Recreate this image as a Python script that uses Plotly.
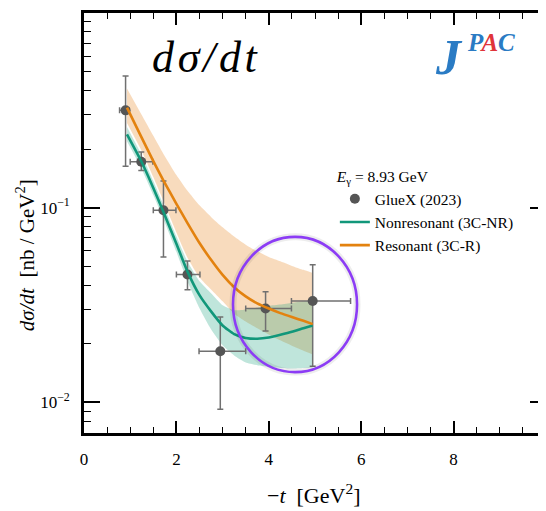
import plotly.graph_objects as go

# ---------------- data ----------------
t_data = [0.90, 1.24, 1.72, 2.24, 2.95, 3.93, 4.95]
dsdt_data = [0.316, 0.172, 0.097, 0.0453, 0.0183, 0.0303, 0.0331]
dsdt_err_up = [0.159, 0.021, 0.040, 0.0079, 0.0091, 0.0067, 0.0178]
dsdt_err_dn = [0.153, 0.017, 0.0413, 0.0074, 0.0091, 0.0071, 0.0178]
t_err_lo = [0.13, 0.24, 0.22, 0.24, 0.46, 0.43, 0.46]
t_err_hi = [0.08, 0.25, 0.27, 0.27, 0.55, 0.56, 0.82]

t_curve = [0.93, 1.24, 1.5, 1.72, 2.0, 2.24, 2.5, 2.75, 3.0, 3.25, 3.5, 3.75,
           4.0, 4.25, 4.5, 4.75, 4.95]
res_line = [0.3266, 0.2309, 0.1734, 0.1378, 0.1045, 0.0833, 0.0658, 0.0539, 0.0451,
            0.0390, 0.0350, 0.0322, 0.0303, 0.0287, 0.0274, 0.0262, 0.0252]
res_upper = [0.409, 0.3016, 0.2339, 0.1888, 0.1471, 0.1220, 0.1027, 0.0896, 0.0792,
             0.0710, 0.0645, 0.0596, 0.0558, 0.0530, 0.0502, 0.0479, 0.0462]
res_lower = [0.2721, 0.1970, 0.1438, 0.1082, 0.0746, 0.0553, 0.0438, 0.0380, 0.0330,
             0.0285, 0.0260, 0.0240, 0.0223, 0.0208, 0.0195, 0.0184, 0.0176]
nr_line = [0.2379, 0.1730, 0.1262, 0.0950, 0.0652, 0.0469, 0.0355, 0.0293, 0.0248,
           0.0224, 0.0214, 0.0212, 0.0215, 0.0222, 0.0230, 0.0240, 0.0248]
nr_upper = [0.2596, 0.1879, 0.1371, 0.1032, 0.0712, 0.0528, 0.0418, 0.0363, 0.0315,
            0.0297, 0.0300, 0.0307, 0.0313, 0.0318, 0.0324, 0.0330, 0.0334]
nr_lower = [0.2191, 0.1592, 0.1162, 0.0875, 0.0593, 0.0417, 0.0304, 0.0237, 0.0196,
            0.0174, 0.0160, 0.0155, 0.0152, 0.0150, 0.0149, 0.0150, 0.0151]

y_tickvals = [0.01, 0.1, 1]
y_ticktext = ["10<sup>−2</sup>", "10<sup>−1</sup>", "1"]
y_minor = [0.007, 0.008, 0.009, 0.02, 0.03, 0.04, 0.05, 0.06, 0.07, 0.08, 0.09,
           0.2, 0.3, 0.4, 0.5, 0.6, 0.7, 0.8, 0.9]
x_tickvals = [0, 2, 4, 6, 8, 10]

# ---------------- style ----------------
SERIF = "Liberation Serif"
ORANGE = "#E3820F"
GREEN = "#11977A"
ORANGE_BAND = "rgba(232,135,35,0.30)"
GREEN_BAND = "rgba(25,160,125,0.28)"
SM = 0.5

fig = go.Figure()

# orange band
fig.add_trace(go.Scatter(x=t_curve, y=res_lower, mode="lines",
                         line=dict(width=0, shape="spline", smoothing=SM),
                         showlegend=False, hoverinfo="skip"))
fig.add_trace(go.Scatter(x=t_curve, y=res_upper, mode="lines", fill="tonexty",
                         fillcolor=ORANGE_BAND,
                         line=dict(width=0, shape="spline", smoothing=SM),
                         showlegend=False, hoverinfo="skip"))
# green band
fig.add_trace(go.Scatter(x=t_curve, y=nr_lower, mode="lines",
                         line=dict(width=0, shape="spline", smoothing=SM),
                         showlegend=False, hoverinfo="skip"))
fig.add_trace(go.Scatter(x=t_curve, y=nr_upper, mode="lines", fill="tonexty",
                         fillcolor=GREEN_BAND,
                         line=dict(width=0, shape="spline", smoothing=SM),
                         showlegend=False, hoverinfo="skip"))

# data
fig.add_trace(go.Scatter(
    x=t_data, y=dsdt_data, mode="markers", name="GlueX (2023)",
    marker=dict(color="#555555", size=10),
    error_y=dict(type="data", array=dsdt_err_up, arrayminus=dsdt_err_dn,
                 color="#707070", thickness=1.5, width=3),
    error_x=dict(type="data", array=t_err_hi, arrayminus=t_err_lo,
                 color="#707070", thickness=1.5, width=3),
))

# lines
fig.add_trace(go.Scatter(x=t_curve, y=nr_line, mode="lines",
                         name="Nonresonant (3C-NR)",
                         line=dict(color=GREEN, width=2.6, shape="spline", smoothing=SM)))
fig.add_trace(go.Scatter(x=t_curve, y=res_line, mode="lines",
                         name="Resonant (3C-R)",
                         line=dict(color=ORANGE, width=2.6, shape="spline", smoothing=SM)))

# ellipse highlight (shadow + purple)
ex0, ex1, ey0, ey1 = 0.3225, 0.591, 0.145, 0.467
fig.add_shape(type="circle", xref="paper", yref="paper",
              x0=ex0, x1=ex1, y0=ey0, y1=ey1,
              line=dict(color="rgba(0,0,0,0.07)", width=7), layer="above")
fig.add_shape(type="circle", xref="paper", yref="paper",
              x0=ex0, x1=ex1, y0=ey0, y1=ey1,
              line=dict(color="#8C3CF5", width=2.6), layer="above")

# texts
HS = "\u200a"
fig.add_annotation(xref="paper", yref="paper", x=0.264, y=0.895,
                   xanchor="center", yanchor="middle",
                   text="<i>d" + HS + "σ" + HS + "/" + HS + "d" + HS + "t</i>",
                   showarrow=False,
                   font=dict(family=SERIF, size=44, color="black"))
fig.add_annotation(xref="paper", yref="paper", x=0.79, y=0.895,
                   xanchor="center", yanchor="middle",
                   text="<b><i>J</i></b>", showarrow=False,
                   font=dict(family=SERIF, size=50, color="#2A7BC4"))
fig.add_annotation(xref="paper", yref="paper", x=0.881, y=0.9286,
                   xanchor="center", yanchor="middle",
                   text="<b><i>P<span style='color:#E0343A'>A</span>C</i></b>",
                   showarrow=False,
                   font=dict(family=SERIF, size=25, color="#2A7BC4"))
fig.add_annotation(xref="paper", yref="paper", x=-0.1277, y=0.4235,
                   xanchor="center", yanchor="middle",
                   text="<i>dσ/dt</i>  [nb / GeV<sup>2</sup>]", textangle=-90,
                   showarrow=False,
                   font=dict(family=SERIF, size=21, color="black"))
fig.add_annotation(xref="paper", yref="paper", x=0.496, y=-0.145,
                   xanchor="center", yanchor="middle",
                   text="−<i>t</i>  [GeV<sup>2</sup>]", showarrow=False,
                   font=dict(family=SERIF, size=22, color="black"))

axis_common = dict(showline=True, linecolor="black", linewidth=2.6, mirror="ticks",
                   ticks="inside", tickcolor="black", tickwidth=1.5,
                   showgrid=False, zeroline=False, automargin=False,
                   tickfont=dict(family=SERIF, size=17, color="black"))

fig.update_xaxes(range=[0, 10], tickmode="array", tickvals=x_tickvals, ticklen=12,
                 minor=dict(dtick=0.5, ticks="inside", ticklen=6, tickcolor="black",
                            tickwidth=1.2, showgrid=False),
                 ticklabelstandoff=9, ticklabeloverflow="allow", **axis_common)
fig.update_yaxes(type="log", range=[-2.158, 0], tickmode="array",
                 tickvals=y_tickvals, ticktext=y_ticktext, ticklen=16,
                 minor=dict(tickmode="array", tickvals=y_minor, ticks="inside",
                            ticklen=7, tickcolor="black", tickwidth=1.2, showgrid=False),
                 ticklabelstandoff=8, **axis_common)

# page body has an 8px margin: figure is sized/offset to land the plot area
# at the reference pixel positions
fig.update_layout(
    width=538, height=503,
    margin=dict(l=76, r=0, t=5, b=78),
    plot_bgcolor="white", paper_bgcolor="white",
    font=dict(family=SERIF, color="black"),
    legend=dict(x=0.543, y=0.645, xanchor="left", yanchor="top",
                traceorder="normal",
                bgcolor="rgba(0,0,0,0)", borderwidth=0,
                font=dict(family=SERIF, size=15.5, color="black"),
                title=dict(text="<i>E</i><sub>γ</sub> = 8.93 GeV",
                           font=dict(family=SERIF, size=15.5, color="black")),
                tracegroupgap=0, itemwidth=30),
)

fig.write_html("out.html")
